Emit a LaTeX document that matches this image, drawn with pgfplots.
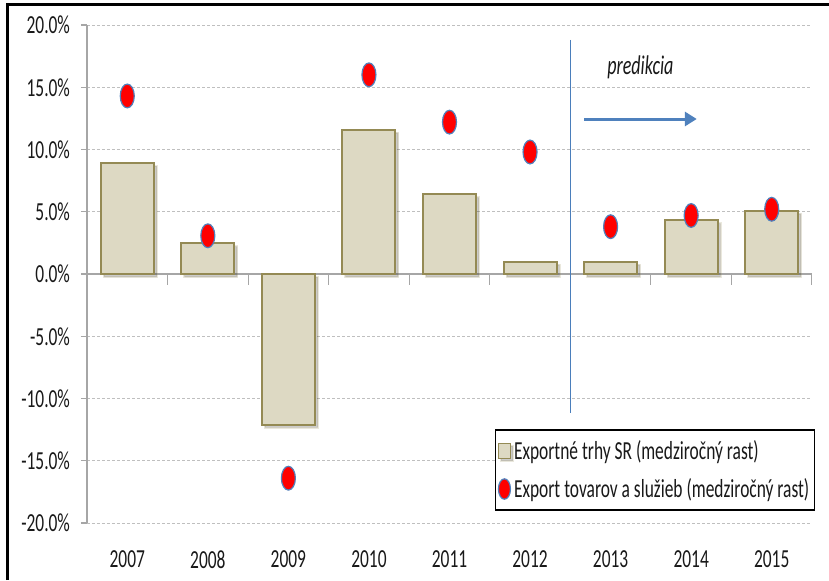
\documentclass[border=0pt]{standalone}
\usepackage{fontspec}
\setmainfont{Carlito}[FakeStretch=0.67]
\usepackage{pgfplots}
\pgfplotsset{compat=1.18}
\usetikzlibrary{shadows,arrows.meta}
\definecolor{barfill}{HTML}{DDD9C3}
\definecolor{baredge}{HTML}{948A54}
\definecolor{dotedge}{HTML}{4F81BD}
\definecolor{linblue}{HTML}{4A7EBB}
\definecolor{gridgray}{HTML}{BFBFBF}
\definecolor{axgray}{HTML}{A6A6A6}
\pgfplotsset{
  barlegend/.style={legend image code/.code={\draw[fill=barfill, draw=baredge, line width=0.6pt] (0pt,-3.75pt) rectangle (6pt,3.75pt);}},
  dotlegend/.style={legend image code/.code={\draw[##1, mark size=3pt] plot coordinates {(3pt,0pt)};}},
}
\begin{document}
\begin{tikzpicture}
\begin{axis}[
  at={(0,0)}, anchor=south west,
  scale only axis, width=362.5pt, height=249pt,
  xmin=-0.5, xmax=8.5, ymin=-20, ymax=20,
  axis y line*=left, axis x line*=bottom,
  x axis line style={draw=none},
  y axis line style={draw=axgray, line width=0.6pt},
  xtick={0,1,2,3,4,5,6,7,8},
  xticklabels={2007,2008,2009,2010,2011,2012,2013,2014,2015},
  major x tick style={draw=none},
  ytick={-20,-15,-10,-5,0,5,10,15,20},
  ytick style={draw=axgray, line width=0.6pt},
  tick align=outside, major tick length=3pt,
  ymajorgrids, major grid style={gridgray, dash pattern=on 1.5pt off 1pt, line width=0.5pt},
  yticklabel={\pgfmathprintnumber[fixed,fixed zerofill,precision=1]{\tick}\%},
  /pgf/number format/assume math mode=true,
  tick label style={font=\fontsize{13}{15}\selectfont, text=black!90},
  xticklabel style={yshift=-7.5pt},
  yticklabel style={xshift=-2pt},
  legend style={at={(1.004,0.188)}, anchor=north east, draw=black, line width=0.6pt,
    fill=white, font=\fontsize{13}{15}\selectfont, text=black!90, cells={anchor=west}, row sep=4pt,
    inner xsep=1pt, inner ysep=3pt, nodes={inner xsep=1.5pt}},
]
\draw[axgray, line width=0.6pt] (axis cs:-0.5,0) -- (axis cs:8.5,0);
\pgfplotsinvokeforeach{0.5,1.5,2.5,3.5,4.5,5.5,6.5,7.5,8.5}{
  \draw[axgray, line width=0.6pt] (axis cs:#1,0) -- ++(0pt,-5.5pt);
}
\addplot[ybar, bar width=26.5pt, fill=barfill, draw=baredge, line width=1pt,
  drop shadow={shadow xshift=1.5pt, shadow yshift=-1.5pt, fill=black, opacity=0.2},
  barlegend]
  coordinates {(0,8.9) (1,2.47) (2,-12.1) (3,11.6) (4,6.4) (5,1.0) (6,1.0) (7,4.3) (8,5.1)};
\addlegendentry{Exportné trhy SR (medziročný rast)}
\addplot[only marks, mark=*, mark size=3.5pt,
  mark options={fill=red, draw=dotedge, line width=0.6pt, yscale=1.7},
  dotlegend]
  coordinates {(0,14.3) (1,3.07) (2,-16.4) (3,16.0) (4,12.2) (5,9.8) (6,3.8) (7,4.7) (8,5.2)};
\addlegendentry{Export tovarov a služieb (medziročný rast)}
\draw[linblue, line width=0.75pt] (axis cs:5.5,18.8) -- (axis cs:5.5,-11.2);
\draw[dotedge, line width=1.5pt, -{Triangle[length=6pt,width=7pt]}] (axis cs:5.67,12.45) -- (axis cs:7.07,12.45);
\node[font=\fontsize{13.5}{15}\selectfont\itshape, text=black!90] at (axis cs:6.37,16.6) {predikcia};
\end{axis}
\pgfresetboundingbox
\path[use as bounding box] (-43.5pt,-28.5pt) rectangle (371pt,261.5pt);
\draw[black, line width=1.5pt] (-39.5pt,-28.5pt) -- (-39.5pt,259pt) -- (371pt,259pt);
\end{tikzpicture}
\end{document}
